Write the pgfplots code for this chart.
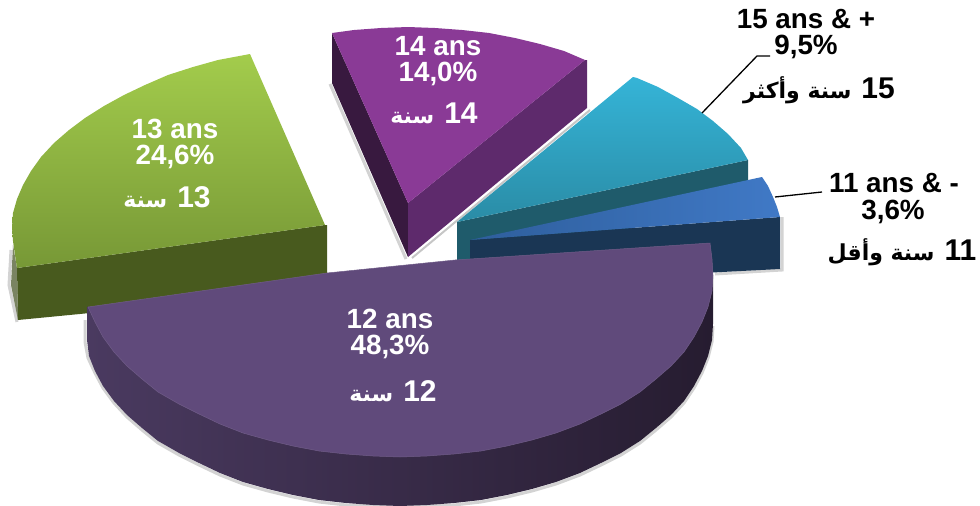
\documentclass[border=0pt]{standalone}
\usepackage{fontspec}
\usepackage{pgfplots}
\pgfplotsset{compat=1.18}
\setmainfont{Liberation Sans}
\TeXXeTstate=1
\newfontfamily\arabicfont[Script=Arabic]{DejaVu Sans}
\definecolor{grA}{HTML}{A3CC4C}\definecolor{grB}{HTML}{779836}\definecolor{grS}{HTML}{485A1E}
\definecolor{puT}{HTML}{8A3A96}\definecolor{puL}{HTML}{38193F}\definecolor{puR}{HTML}{5E2A6C}
\definecolor{teA}{HTML}{35B4D7}\definecolor{teB}{HTML}{2A8CA6}\definecolor{teS}{HTML}{1F5B6B}
\definecolor{blA}{HTML}{4079C6}\definecolor{blB}{HTML}{2E5E9C}\definecolor{blS}{HTML}{1A3654}
\definecolor{viT}{HTML}{604A7B}\definecolor{viL}{HTML}{4A3A60}\definecolor{viM}{HTML}{302439}\definecolor{viR}{HTML}{261C30}
\newcommand{\lat}[3]{\node[text=#3,font=\bfseries\fontsize{27.8}{29}\selectfont,inner sep=0pt] at (axis cs:#1) {#2};}
\newcommand{\ar}[4]{\node[text=#4,inner sep=0pt] at (axis cs:#1) {{\arabicfont\bfseries\fontsize{22}{24}\selectfont #3}\hspace{10pt}{\bfseries\fontsize{30}{32}\selectfont #2}};}
\begin{document}
\begin{tikzpicture}
\begin{axis}[scale only axis,width=980pt,height=506pt,xmin=0,xmax=980,ymin=0,ymax=506,y dir=reverse,axis lines=none,ticks=none,clip=true]
% page frame, invisible
\addplot[draw=none] coordinates {(0,0)(980,0)(980,506)(0,506)(0,0)};
% soft shadows
\addplot[draw=gray,line width=3pt,opacity=.35] coordinates {(713,326)(712,342)(708,358)(702,373)(694,388)(684,403)(671,417)(656,430)(640,443)(621,455)(601,465)(580,475)(556,484)(532,491)(507,497)(481,502)(454,505)(427,506)(373,506)(346,505)(319,502)(293,497)(268,491)(243,484)(220,475)(199,465)(179,455)(158,443)(142,430)(127,417)(114,403)(103,388)(95,373)(88,358)(85,342)(85,320)};
\addplot[draw=gray,line width=3pt,opacity=.35] coordinates {(11,250)(9,285)(17,322)};
\addplot[draw=gray,line width=3pt,opacity=.35] coordinates {(330,84)(406,259)};
\addplot[draw=gray,line width=2pt,opacity=.45] coordinates {(412,258)(590,110)};
\addplot[draw=gray,line width=3pt,opacity=.35] coordinates {(782,217)(782,270)(715,274)};
% 13 ans
\addplot[fill=grS,draw=none] coordinates {(17,268)(325,225)(327,225)(327,290)(18,320)(17,268)};
\addplot[fill=grS!70!gray,draw=none,opacity=.8] coordinates {(13,245)(17,268)(18,320)(11,285)(13,245)};
\addplot[draw=none,top color=grA,bottom color=grB] coordinates {(325,225)(250,54)(218,60)(193,67)(168,75)(145,85)(124,95)(104,106)(85,118)(69,130)(54,143)(41,157)(31,171)(23,185)(17,199)(13,213)(12,227)(13,241)(15,255)(17,268)(325,225)};
% 14 ans
\addplot[fill=puL,draw=none] coordinates {(332,33)(408,203)(408,257)(332,83)(332,33)};
\addplot[fill=puR,draw=none] coordinates {(585,60)(587,60)(587,108)(408,257)(408,203)(585,60)};
\addplot[fill=puT,draw=none] coordinates {(408,203)(332,33)(354,30)(381,28)(408,27)(435,28)(462,30)(489,33)(515,38)(540,44)(564,51)(585,60)(408,203)};
% 15 ans
\addplot[fill=teS,draw=none] coordinates {(457,222)(748,160)(748,185)(600,240)(470,262)(457,262)(457,222)};
\addplot[draw=none,top color=teA,bottom color=teB] coordinates {(457,222)(633,77)(637,78)(658,87)(678,98)(697,109)(713,121)(728,134)(741,148)(748,160)(457,222)};
% 11 ans
\addplot[fill=blS,draw=none] coordinates {(470,240)(780,217)(780,269)(470,285)(470,240)};
\addplot[draw=none,left color=blB,right color=blA] coordinates {(470,240)(762,177)(768,186)(773,197)(777,207)(780,217)(470,240)};
% 12 ans
\addplot[draw=none,left color=viL,middle color=viM,right color=viR] coordinates {(713,275)(713,324)(712,340)(708,356)(702,371)(694,386)(684,401)(671,415)(656,428)(640,441)(621,453)(601,463)(580,473)(556,482)(532,489)(507,495)(481,500)(454,503)(427,505)(400,506)(373,505)(346,503)(319,500)(293,495)(268,489)(243,482)(220,473)(199,463)(179,453)(158,441)(142,428)(127,415)(114,401)(103,386)(95,371)(89,356)(87,340)(87,307)(713,275)};
\addplot[fill=viT,draw=viT!90!white,line width=.5pt] coordinates {(88,307)(95,322)(103,337)(114,352)(127,366)(142,379)(158,392)(179,404)(199,414)(220,424)(243,433)(268,440)(293,446)(319,451)(346,454)(373,456)(400,457)(427,456)(454,454)(481,451)(507,446)(532,440)(556,433)(580,424)(601,414)(621,404)(640,392)(656,379)(671,366)(684,352)(694,337)(702,322)(708,307)(712,291)(713,275)(712,259)(710,243)(455,260)(327,273)(88,307)};
% leader lines
\addplot[black,line width=1.3pt] coordinates {(702,113)(757,56)(770,56)};
\addplot[black,line width=1.3pt] coordinates {(775,197)(822,192)};
% labels
\lat{438,46}{14 ans}{white}\lat{438,74}{14,0\%}{white}\ar{434,113}{14}{\beginR سنة\endR}{white}
\lat{175,129}{13 ans}{white}\lat{175,157}{24,6\%}{white}\ar{167,197}{13}{\beginR سنة\endR}{white}
\lat{390,319}{12 ans}{white}\lat{390,347}{48,3\%}{white}\ar{393,391}{12}{\beginR سنة\endR}{white}
\lat{806,19}{15 ans \& +}{black}\lat{806,47}{9,5\%}{black}\ar{819,90}{15}{\beginR سنة وأكثر\endR}{black}
\lat{894,183}{11 ans \& -}{black}\lat{893,212}{3,6\%}{black}\ar{902,252}{11}{\beginR سنة وأقل\endR}{black}
\end{axis}
\end{tikzpicture}
\end{document}
